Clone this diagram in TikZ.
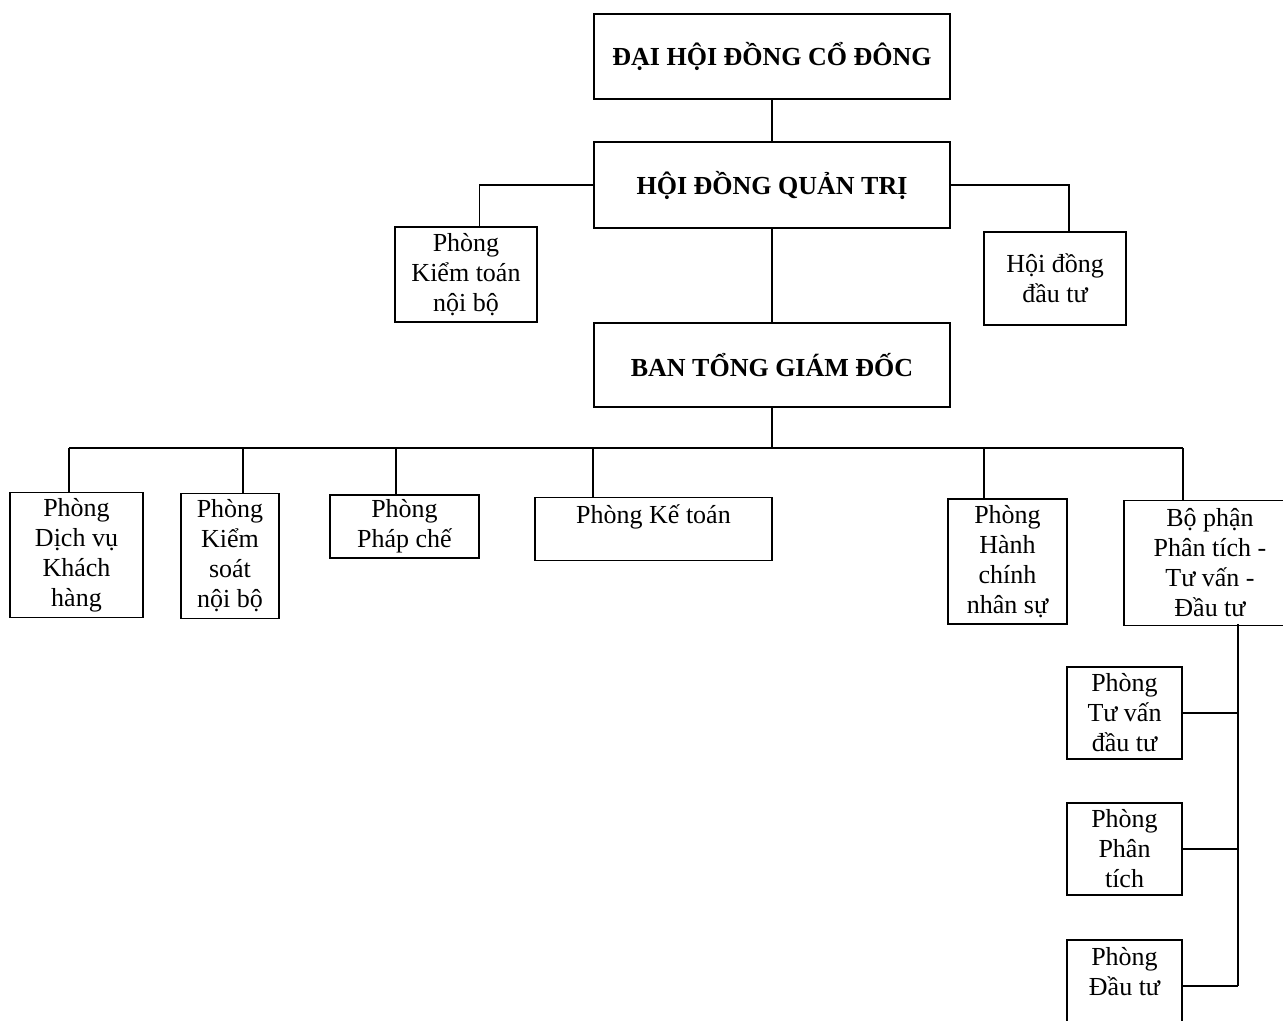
\documentclass[tikz,border=0pt]{standalone}
\usepackage{fontspec}
\setmainfont{Liberation Serif}
\usepackage{tikz}
\usetikzlibrary{positioning,calc}

\begin{document}
\begin{tikzpicture}[
  x=0.5pt, y=-0.5pt,
  font=\fontsize{13pt}{15pt}\selectfont,
  box/.style={draw=black, rectangle, align=center, inner sep=1pt, line width=0.9pt},
  top/.style={box, font=\fontsize{13pt}{15pt}\selectfont\bfseries, minimum width=178pt},
  unit/.style={box, minimum height=62.5pt},
  small/.style={box, minimum height=31.5pt},
  sub/.style={box, minimum width=57.5pt, minimum height=46pt},
  ln/.style={line width=0.9pt},
]
\useasboundingbox (0,0) rectangle (1283,1021);
\node[top, minimum height=42.5pt] (dhdcd) at (772,56.5) {ĐẠI HỘI ĐỒNG CỔ ĐÔNG};
\node[top, minimum height=43pt] (hdqt) at (772,185) {HỘI ĐỒNG QUẢN TRỊ};
\node[box, minimum width=71pt, minimum height=47.5pt] (ktnb) at (466,274.5) {Phòng\\Kiểm toán\\nội bộ};
\node[box, minimum width=71pt, minimum height=46.5pt] (hddt) at (1055,278.5) {Hội đồng\\đầu tư};
\node[top, minimum height=42pt] (btgd) at (772,365) {BAN TỔNG GIÁM ĐỐC};
\node[unit, minimum width=66.5pt] (dvkh) at (76.5,555) {Phòng\\Dịch vụ\\Khách\\hàng};
\node[unit, minimum width=49pt] (ksnb) at (230,556) {Phòng\\Kiểm\\soát\\nội bộ};
\node[small, minimum width=74.5pt] (phapche) at (404.5,526.5) {Phòng\\Pháp chế};
\node[small, minimum width=118.5pt] (ketoan) at (653.5,529) {Phòng Kế toán\\~};
\node[unit, minimum width=59.5pt] (hcns) at (1007.5,561.5) {Phòng\\Hành\\chính\\nhân sự};
\node[unit, minimum width=86pt] (bpptv) at (1210,563) {Bộ phận\\Phân tích -\\Tư vấn -\\Đầu tư};
\node[sub] (tvdt) at (1124.5,713) {Phòng\\Tư vấn\\đầu tư};
\node[sub] (phantich) at (1124.5,849) {Phòng\\Phân\\tích};
\node[sub] (dautu) at (1124.5,986) {Phòng\\Đầu tư\\~};
\coordinate (kt) at (479.5,185);
\coordinate (dt) at (1069,185);
\coordinate (b1) at (69,448);
\coordinate (b2) at (243,448);
\coordinate (b3) at (396,448);
\coordinate (b4) at (593,448);
\coordinate (b5) at (984,448);
\coordinate (b6) at (1183,448);
\coordinate (sb) at (1238,624);
\draw[ln] (dhdcd.south) -- (hdqt.north);
\draw[ln] (hdqt.west) -- (kt) -- (kt |- ktnb.north);
\draw[ln] (hdqt.east) -- (dt) -- (dt |- hddt.north);
\draw[ln] (hdqt.south) -- (btgd.north);
\draw[ln] (btgd.south) -- (btgd.south |- b1);
\draw[ln] (b1) -- (b6);
\draw[ln] (b1) -- (b1 |- dvkh.north);
\draw[ln] (b2) -- (b2 |- ksnb.north);
\draw[ln] (b3) -- (b3 |- phapche.north);
\draw[ln] (b4) -- (b4 |- ketoan.north);
\draw[ln] (b5) -- (b5 |- hcns.north);
\draw[ln] (b6) -- (b6 |- bpptv.north);
\draw[ln] (sb) -- (sb |- dautu.east);
\draw[ln] (tvdt.east) -- (tvdt.east -| sb);
\draw[ln] (phantich.east) -- (phantich.east -| sb);
\draw[ln] (dautu.east) -- (dautu.east -| sb);
\end{tikzpicture}
\end{document}
